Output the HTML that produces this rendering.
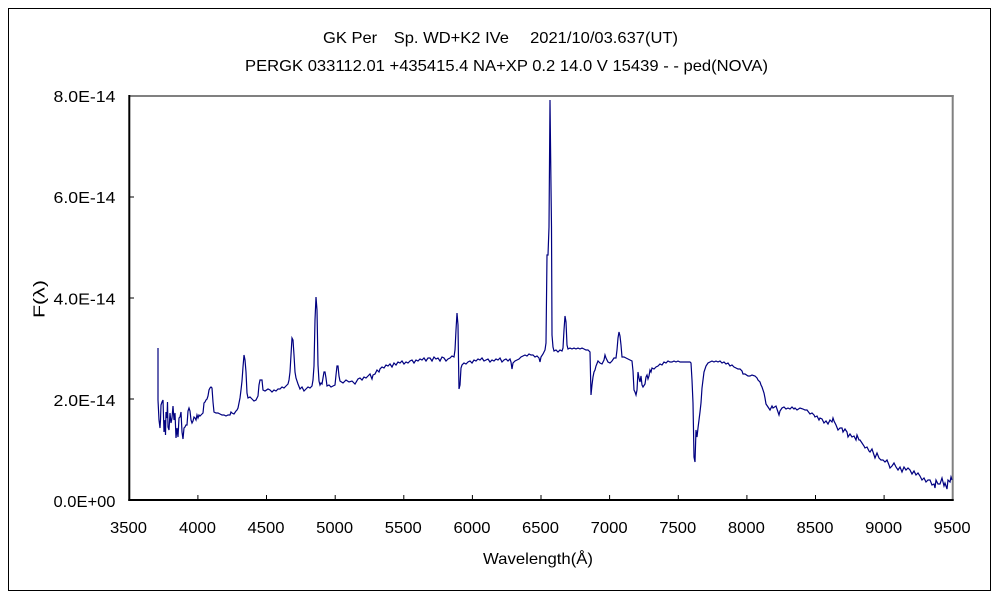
<!DOCTYPE html>
<html>
<head>
<meta charset="utf-8">
<style>
html,body{margin:0;padding:0;background:#fff;}
svg{display:block;}
text{font-family:"Liberation Sans","Noto Sans CJK JP",sans-serif;fill:#000;}
</style>
</head>
<body>
<svg width="1000" height="600" viewBox="0 0 1000 600" xmlns="http://www.w3.org/2000/svg">
<rect x="0" y="0" width="1000" height="600" fill="#fff"/>
<rect x="8.5" y="8.5" width="982" height="582" fill="none" stroke="#000" stroke-width="1"/>

<!-- titles -->
<text x="323" y="43" font-size="16" textLength="355" lengthAdjust="spacingAndGlyphs">GK Per　Sp. WD+K2 IVe　 2021/10/03.637(UT)</text>
<text x="245" y="71" font-size="16" textLength="523" lengthAdjust="spacingAndGlyphs">PERGK 033112.01 +435415.4 NA+XP 0.2 14.0 V 15439 - - ped(NOVA)</text>

<!-- plot frame -->
<line x1="129" y1="96" x2="953.7" y2="96" stroke="#808080" stroke-width="2"/>
<line x1="952.7" y1="95" x2="952.7" y2="501" stroke="#808080" stroke-width="2"/>
<line x1="129.3" y1="95" x2="129.3" y2="501" stroke="#000" stroke-width="2"/>
<line x1="128.3" y1="500" x2="953.7" y2="500" stroke="#000" stroke-width="2"/>

<!-- ticks -->
<g stroke="#000" stroke-width="1">
<line x1="197.9" y1="500" x2="197.9" y2="495"/>
<line x1="266.5" y1="500" x2="266.5" y2="495"/>
<line x1="335.2" y1="500" x2="335.2" y2="495"/>
<line x1="403.8" y1="500" x2="403.8" y2="495"/>
<line x1="472.4" y1="500" x2="472.4" y2="495"/>
<line x1="541.0" y1="500" x2="541.0" y2="495"/>
<line x1="609.6" y1="500" x2="609.6" y2="495"/>
<line x1="678.3" y1="500" x2="678.3" y2="495"/>
<line x1="746.9" y1="500" x2="746.9" y2="495"/>
<line x1="815.5" y1="500" x2="815.5" y2="495"/>
<line x1="884.1" y1="500" x2="884.1" y2="495"/>
<line x1="129" y1="197" x2="134" y2="197"/>
<line x1="129" y1="298" x2="134" y2="298"/>
<line x1="129" y1="399" x2="134" y2="399"/>
</g>

<!-- x tick labels -->
<g font-size="16" text-anchor="middle">
<text x="128.5" y="533" textLength="37" lengthAdjust="spacingAndGlyphs">3500</text>
<text x="197.5" y="533" textLength="37" lengthAdjust="spacingAndGlyphs">4000</text>
<text x="266" y="533" textLength="37" lengthAdjust="spacingAndGlyphs">4500</text>
<text x="334.7" y="533" textLength="37" lengthAdjust="spacingAndGlyphs">5000</text>
<text x="403.3" y="533" textLength="37" lengthAdjust="spacingAndGlyphs">5500</text>
<text x="472" y="533" textLength="37" lengthAdjust="spacingAndGlyphs">6000</text>
<text x="540.5" y="533" textLength="37" lengthAdjust="spacingAndGlyphs">6500</text>
<text x="609.2" y="533" textLength="37" lengthAdjust="spacingAndGlyphs">7000</text>
<text x="677.8" y="533" textLength="37" lengthAdjust="spacingAndGlyphs">7500</text>
<text x="746.4" y="533" textLength="37" lengthAdjust="spacingAndGlyphs">8000</text>
<text x="815" y="533" textLength="37" lengthAdjust="spacingAndGlyphs">8500</text>
<text x="883.6" y="533" textLength="37" lengthAdjust="spacingAndGlyphs">9000</text>
<text x="952.2" y="533" textLength="37" lengthAdjust="spacingAndGlyphs">9500</text>
</g>
<text x="483" y="564" font-size="16" textLength="110" lengthAdjust="spacingAndGlyphs">Wavelength(Å)</text>

<!-- y tick labels -->
<g font-size="16">
<text x="53.5" y="102" textLength="62" lengthAdjust="spacingAndGlyphs">8.0E-14</text>
<text x="53.5" y="203" textLength="62" lengthAdjust="spacingAndGlyphs">6.0E-14</text>
<text x="53.5" y="304.5" textLength="62" lengthAdjust="spacingAndGlyphs">4.0E-14</text>
<text x="53.5" y="406" textLength="62" lengthAdjust="spacingAndGlyphs">2.0E-14</text>
<text x="53.5" y="507" textLength="62" lengthAdjust="spacingAndGlyphs">0.0E+00</text>
</g>
<text transform="translate(44.5,299) rotate(-90)" font-size="16" text-anchor="middle" textLength="38" lengthAdjust="spacingAndGlyphs">F(λ)</text>

<!-- spectrum -->
<polyline fill="none" stroke="#000080" stroke-width="1.2" stroke-linejoin="miter" points="
158,348 158,400 159,420 160,428 160.5,420 161,405 162,402 163,400 164,432 165,420 165.5,435 166,412 167,418 167.5,402 168,427 169,430 170,413 171,423 172,418 173,406 174,420 175,413 176,438 177,428 178,437 179,418 180,417 181,412 182,432 183,439 184,428 185,427 186,425 187,425 188,411 189,408 190,411 191,420 192,423 193,421 194,417 195,418 196,420 197,415 198,418 199,415 200,416 201,415 202,414 203,413 204,403 205,402 206,400 207,399 208,396 209,390 210,388 211,387 212,388 213,402 214,412 216,413 218,413 220,414 222,415 224,415 226,416 228,415 230,415 231,412 232,413 234,414 236,411 237,410 238,408 239,403 240,398 241,390 242,381 243,367 244,355 245,360 246,372 247,393 248,398
250,397 252,399 254,401 256,400 258,396 259,385 260,380 262,380 263,390 265,391 268,389 270,390 272,392 274,390 276,391 278,389 280,389 282,387 284,388 286,386 288,384 289,380 290,372 291,355 292,338 293,340 294,355 295,372 296,378 298,384 300,389 302,387 304,391 306,389 308,387 310,388 312,386 313,380 314,366 315,320 316,297 317,310 318,365 319,381 320,385 321,383 322,384 323,378 324,372 325,372 326,378 327,386 329,385 331,387 333,386 335,385 336,375 337,366 338,366 339,376 340,381
343,383 346,380 349,382 352,381 355,384 358,379 360,378 362,380 364,377 366,378 368,376 370,374 372,379 373,375 375,374 377,370 379,372 380,369 382,367 384,368 386,365 388,366 390,364 392,367 394,363 396,365 398,362 400,363 402,361 404,364 406,362 408,363 410,361 412,360 414,363 416,360 418,361 420,359 422,360 424,358 426,361 428,358 430,358 432,361 434,357 436,359 438,358 440,361 442,357 444,358 446,361 448,359 450,358 452,356 454,357 455,350 456,330 457,313 458,325 458.5,360 459,389 460,385 461,368 462,365 464,363 466,364 468,362 470,361 472,363 474,360 476,361 478,359 480,360 482,358 484,361 486,360 488,359 490,362 492,360 494,361 496,359 498,360 500,358 502,362 504,360 506,359 508,361 510,359 511,362 512,369 513,363 515,361 517,360 519,359 521,357 523,356 525,355 527,356 529,354 531,355 533,355 535,357 537,356 539,358 540,362 541,357 543,354 545,350 546,343 547,255 548,255 549,227 550,100 551,187 551.5,227 552,335 553,347 554,351 556,350 558,352 560,350 562,351 563,348 564,330 565,316 566,322 567,345 568,349 570,348 572,349 574,348 576,349 578,348 580,349 582,348 584,349 586,350 588,350 590,352 591,395 592,385 593,377 594,372 595,370 596,366 598,361 600,363 602,364 604,360 605,355 606,358 608,362 610,363 612,361 614,358 616,358 617,350 618,338 619,332 620,336 621,345 622,357 624,357 626,358 628,359 630,360 632,361 633,371 634,390 635,392 636,395 637,390 638,372 639,378 640,382 641,376 642,385 643,387 645,384 646,377 647,375 648,379 649,376 650,370 651,372 652,368 654,369 656,367 658,366 660,364 662,365 664,362 666,363 668,361 670,362 672,362 674,361 676,362 678,361 680,362 682,362 684,362 686,362 688,362 690,362 691,363 692,380 693,403 694,457 695,462 696,430 697,437 698,428 699,420 700,412 701,403 702,388 703,380 704,372 706,366 708,363 710,362 712,361 714,362 716,361 718,362 720,361 722,363 724,362 726,364 728,363 730,366 732,365 734,367 736,368 738,369 740,369 742,371 743,374 745,374 748,376 750,376 752,375 755,376 757,378 758,380 760,382 761,385 762,387 764,393 765,398 766,404 768,407 770,410 772,406 773,408 776,406 778,412 779,415 780,411 782,408 784,407 786,409 788,408 790,409 792,407 794,409 795,408 797,410 800,408 803,409 805,410 807,410 810,414 812,413 814,415 815,417 817,416 819,420 820,418 822,419 824,423 826,421 828,424 830,420 832,422 833,418 834,421 836,425 838,430 840,428 842,428 843,432 845,429 847,432 848,437 850,434 852,437 854,436 856,440 857,435 859,440 860,440 862,443 864,446 865,448 867,447 869,451 870,452 872,449 874,455 875,458 877,453 879,458 881,460 883,460 885,462 887,460 889,465 890,468 892,466 894,463 896,467 898,470 900,467 902,472 904,467 906,470 908,468 910,470 912,474 914,471 916,475 918,473 920,476 922,480 924,478 926,482 928,480 930,480 932,485 934,484 935,488 936,480 938,484 940,484 942,478 944,486 945,483 947,489 948,480 950,482 951,477 952,480"/>
</svg>
</body>
</html>
